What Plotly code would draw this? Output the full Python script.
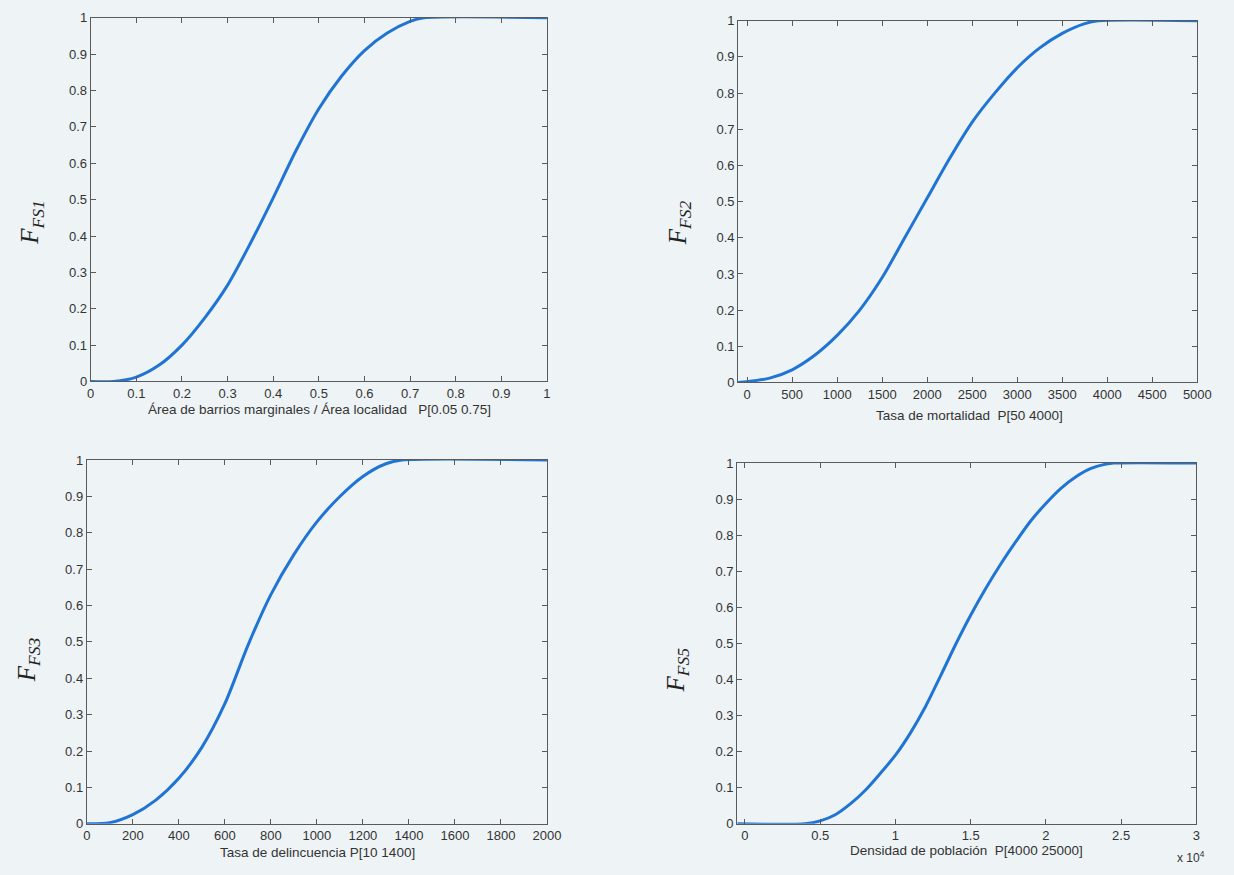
import plotly.graph_objects as go

# ---------------- data ----------------
x1 = [0, 0.05, 0.1, 0.15, 0.2, 0.25, 0.3, 0.35, 0.4, 0.45, 0.5, 0.55, 0.6, 0.65, 0.7, 0.73, 1.0]
y1 = [0, 0, 0.012, 0.045, 0.1, 0.175, 0.265, 0.38, 0.505, 0.635, 0.75, 0.84, 0.91, 0.958, 0.99, 1.0, 1.0]

x2 = [-100, 0, 250, 500, 750, 1000, 1250, 1500, 1750, 2000, 2250, 2500, 2750, 3000, 3250, 3500, 3750, 3900, 5000]
y2 = [0, 0.002, 0.012, 0.035, 0.075, 0.13, 0.2, 0.29, 0.4, 0.51, 0.62, 0.72, 0.8, 0.87, 0.925, 0.965, 0.992, 1.0, 1.0]

x3 = [0, 100, 200, 300, 400, 500, 600, 700, 800, 900, 1000, 1100, 1200, 1300, 1370, 2000]
y3 = [0, 0.003, 0.025, 0.065, 0.125, 0.21, 0.33, 0.49, 0.63, 0.74, 0.83, 0.9, 0.955, 0.99, 1.0, 1.0]

x4 = [-500, 4000, 5000, 6000, 7000, 8000, 9000, 10000, 11000, 12000, 13000, 14000, 15000,
      16000, 17000, 18000, 19000, 20000, 21000, 22000, 23000, 24000, 24500, 30000]
y4 = [0, 0, 0.008, 0.025, 0.055, 0.093, 0.14, 0.19, 0.252, 0.325, 0.41, 0.497, 0.578,
      0.652, 0.72, 0.782, 0.84, 0.888, 0.93, 0.962, 0.985, 0.997, 1.0, 1.0]

ytick_vals = [0, 0.1, 0.2, 0.3, 0.4, 0.5, 0.6, 0.7, 0.8, 0.9, 1]
ytick_text = ["0", "0.1", "0.2", "0.3", "0.4", "0.5", "0.6", "0.7", "0.8", "0.9", "1"]
x1_ticks = [0, 0.1, 0.2, 0.3, 0.4, 0.5, 0.6, 0.7, 0.8, 0.9, 1]
x1_text = ["0", "0.1", "0.2", "0.3", "0.4", "0.5", "0.6", "0.7", "0.8", "0.9", "1"]
x2_ticks = [0, 500, 1000, 1500, 2000, 2500, 3000, 3500, 4000, 4500, 5000]
x3_ticks = [0, 200, 400, 600, 800, 1000, 1200, 1400, 1600, 1800, 2000]
x4_ticks = [0, 5000, 10000, 15000, 20000, 25000, 30000]
x4_text = ["0", "0.5", "1", "1.5", "2", "2.5", "3"]

xlabels = [
    "Área de barrios marginales / Área localidad   P[0.05 0.75]",
    "Tasa de mortalidad  P[50 4000]",
    "Tasa de delincuencia P[10 1400]",
    "Densidad de población  P[4000 25000]",
]
ylabels = ["FS1", "FS2", "FS3", "FS5"]

# ---------------- layout geometry ----------------
W, H = 1234, 875
BG = "#eef3f6"
LINE = "#1f74d4"
AX = "#5a5a5a"
TXT = "#333333"

def px(a, b):
    return [a / W, b / W]

def py(top, bottom):
    return [1 - bottom / H, 1 - top / H]

domains = [
    (px(88, 551), py(11, 381)),
    (px(745, 1211), py(14, 382)),
    (px(84, 551), py(461, 831)),
    (px(744, 1210), py(464, 831)),
]
xranges = [[0, 1], [-100, 5000], [0, 2000], [-520, 30000]]
xticks = [(x1_ticks, x1_text), (x2_ticks, [str(v) for v in x2_ticks]),
          (x3_ticks, [str(v) for v in x3_ticks]), (x4_ticks, x4_text)]
series = [(x1, y1), (x2, y2), (x3, y3), (x4, y4)]
xtitle_pos = [(320, 410), (980, 416), (318, 860), (977, 858)]
ytitle_pos = [(28, 220), (685, 220), (25, 664), (683, 675)]

fig = go.Figure()
layout = dict(
    width=W, height=H,
    margin=dict(l=0, r=0, t=0, b=0),
    paper_bgcolor=BG, plot_bgcolor=BG,
    showlegend=False,
    font=dict(family="Liberation Sans, Arial, sans-serif", size=13, color=TXT),
)

annotations = []
for i, ((xs, ys), (dx, dy), xr, (tv, tt)) in enumerate(zip(series, domains, xranges, xticks)):
    n = "" if i == 0 else str(i + 1)
    fig.add_trace(go.Scatter(x=xs, y=ys, mode="lines",
                             line=dict(color=LINE, width=3, shape="spline", smoothing=0.8),
                             xaxis="x" + n, yaxis="y" + n, hoverinfo="skip"))
    common = dict(showgrid=False, zeroline=False, showline=True, linecolor=AX, linewidth=1,
                  mirror="ticks", ticks="inside", ticklen=5, tickcolor=AX, tickwidth=1,
                  tickfont=dict(size=13, color=TXT))
    layout["xaxis" + n] = dict(domain=dx, range=xr, anchor="y" + n,
                               tickmode="array", tickvals=tv, ticktext=tt, **common)
    layout["yaxis" + n] = dict(domain=dy, range=[0, 1], anchor="x" + n,
                               tickmode="array", tickvals=ytick_vals, ticktext=ytick_text, **common)
    tx, ty = xtitle_pos[i]
    annotations.append(dict(text=xlabels[i], xref="paper", yref="paper",
                            x=tx / W, y=1 - ty / H,
                            xanchor="center", yanchor="middle", showarrow=False,
                            font=dict(size=13.5, color=TXT)))
    lx, ly = ytitle_pos[i]
    annotations.append(dict(text="<i>F<sub>" + ylabels[i] + "</sub></i>",
                            xref="paper", yref="paper",
                            x=lx / W, y=1 - ly / H,
                            xanchor="center", yanchor="middle", textangle=-90, showarrow=False,
                            font=dict(size=25, color="#222222",
                                      family="Liberation Serif, Times New Roman, serif")))

annotations.append(dict(text="x 10<sup>4</sup>", xref="paper", yref="paper",
                        x=1205 / W, y=1 - 865 / H, xanchor="center", yanchor="middle",
                        showarrow=False, font=dict(size=12, color=TXT)))
layout["annotations"] = annotations
fig.update_layout(**layout)
fig.write_html("out.html")
